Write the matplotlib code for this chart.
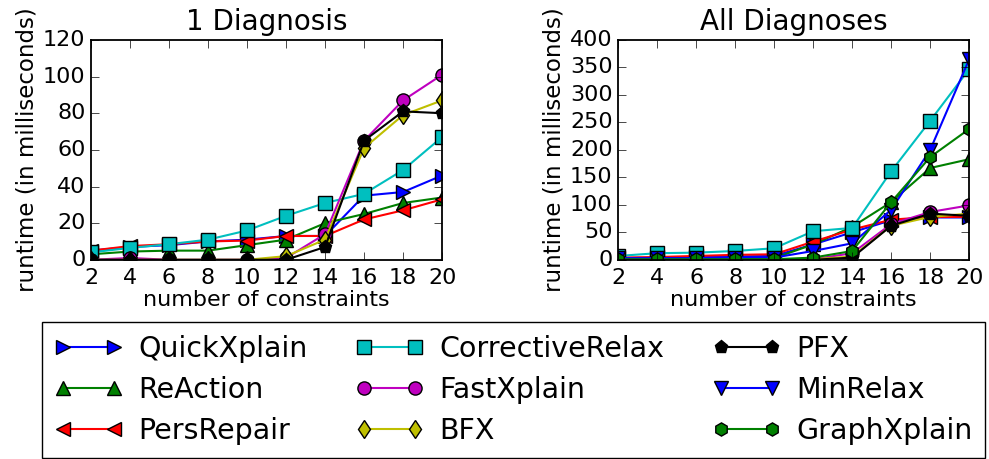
import matplotlib
matplotlib.use("Agg")
import matplotlib.pyplot as plt

# number of constraints on the x axis
constraints = [2, 4, 6, 8, 10, 12, 14, 16, 18, 20]

# runtime (ms) for computing one diagnosis
quick_one = [5, 7, 8, 10, 11, 13, 13, 35, 37, 46]
reaction_one = [3, 4.5, 5, 5, 8, 11, 20, 25, 31, 34]
pers_one = [5, 7.5, 8.5, 10, 10.5, 13, 13, 22, 27, 33]
corrective_one = [4, 6.5, 8.5, 11, 16, 24, 31, 36, 49, 67]
fast_one = [0, 1, 0, 0, 0, 1, 14, 65, 87, 101]
bfx_one = [0, 0, 0, 0, 0, 2, 11, 61, 79, 87]
pfx_one = [0, 0, 0, 0, 0, 0, 7, 65, 81, 80]

# runtime (ms) for computing all diagnoses
quick_all = [3, 4, 5, 6, 7, 28, 50, 72, 77, 77]
reaction_all = [3, 3, 3, 3, 3, 28, 60, 105, 167, 183]
pers_all = [4, 5, 7, 9, 10, 33, 55, 73, 78, 78]
corrective_all = [7, 12, 13, 16, 21, 52, 58, 161, 253, 347]
fast_all = [0, 0, 0, 0, 0, 1, 12, 65, 87, 99]
bfx_all = [0, 0, 0, 0, 0, 1, 6, 62, 78, 84]
pfx_all = [0, 0, 0, 0, 0, 0, 4, 62, 84, 80]
minrelax_all = [3, 3, 3, 4, 4, 16, 30, 91, 200, 365]
graph_all = [1, 1, 1, 1, 1, 4, 16, 105, 187, 238]

# name -> (color, marker)
STYLE = {
    "QuickXplain": ("b", ">"),
    "ReAction": ("g", "^"),
    "PersRepair": ("r", "<"),
    "CorrectiveRelax": ("c", "s"),
    "FastXplain": ("m", "o"),
    "BFX": ("y", "d"),
    "PFX": ("k", "p"),
    "MinRelax": ("b", "v"),
    "GraphXplain": ("g", "h"),
}

plt.style.use("classic")
plt.rcParams["font.family"] = "DejaVu Sans"

fig = plt.figure(figsize=(9.89, 4.59), dpi=100)
fig.patch.set_facecolor("white")
ax1 = fig.add_axes([0.092, 0.434, 0.355, 0.479])
ax2 = fig.add_axes([0.625, 0.434, 0.355, 0.479])

one = [("QuickXplain", quick_one), ("ReAction", reaction_one),
       ("PersRepair", pers_one), ("CorrectiveRelax", corrective_one),
       ("FastXplain", fast_one), ("BFX", bfx_one), ("PFX", pfx_one)]
every = [("QuickXplain", quick_all), ("ReAction", reaction_all),
         ("PersRepair", pers_all), ("CorrectiveRelax", corrective_all),
         ("FastXplain", fast_all), ("BFX", bfx_all), ("PFX", pfx_all),
         ("MinRelax", minrelax_all), ("GraphXplain", graph_all)]


def draw(ax, series):
    handles = []
    for name, vals in series:
        color, marker = STYLE[name]
        h, = ax.plot(constraints, vals, color=color, marker=marker, lw=1.5,
                     markersize=9.5, markeredgecolor="k", markeredgewidth=1,
                     label=name)
        handles.append(h)
    ax.set_xlim(2, 20)
    ax.set_xticks(constraints)
    ax.set_xlabel("number of constraints", fontsize=16, labelpad=1)
    ax.set_ylabel("runtime (in milliseconds)", fontsize=16.5, labelpad=3)
    ax.tick_params(labelsize=16, direction="in", length=6, top=True, right=True)
    ax.tick_params(axis="x", pad=6)
    for s in ax.spines.values():
        s.set_linewidth(1.3)
        s.set_zorder(3)
    return handles


draw(ax1, one)
ax1.set_ylim(0, 120)
ax1.set_yticks(range(0, 121, 20))
ax1.set_title("1 Diagnosis", fontsize=20, pad=7)

handles = draw(ax2, every)
ax2.set_ylim(0, 400)
ax2.set_yticks(range(0, 401, 50))
ax2.set_title("All Diagnoses", fontsize=20, pad=7)

leg = fig.legend(handles=handles, labels=[h.get_label() for h in handles],
                 ncol=3, loc="lower left", mode="expand",
                 bbox_to_anchor=(0.042, 0.002, 0.954, 0.296),
                 fontsize=20.5, numpoints=2, fancybox=False, borderaxespad=0,
                 borderpad=0.45, handlelength=2.4, handletextpad=0.55,
                 labelspacing=0.47)
leg.get_frame().set_edgecolor("k")
leg.get_frame().set_linewidth(1.0)

fig.savefig("out.png", dpi=100, facecolor="white")
